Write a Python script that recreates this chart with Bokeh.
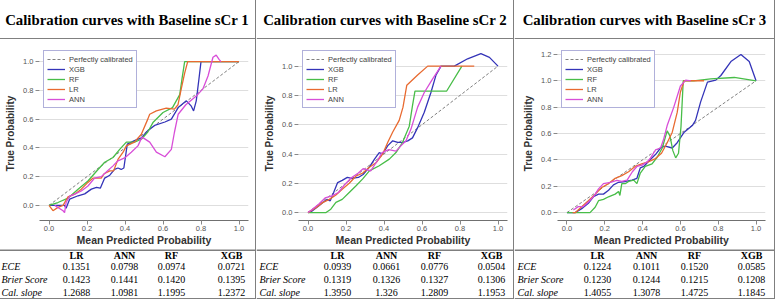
from bokeh.plotting import figure
from bokeh.layouts import row, column
from bokeh.models import Range1d, NumeralTickFormatter, FixedTicker, Span
from bokeh.core.properties import value
from bokeh.embed import file_html
from bokeh.resources import INLINE

# ---------------- data ----------------
titles = ["Calibration curves with Baseline sCr 1",
          "Calibration curves with Baseline sCr 2",
          "Calibration curves with Baseline sCr 3"]

models = ["XGB", "RF", "LR", "ANN"]
table_cols = ["LR", "ANN", "RF", "XGB"]
table_rows = ["ECE", "Brier Score", "Cal. slope"]

# panel 1
p1_xgb_x = [0.0, 0.04, 0.07, 0.082, 0.09, 0.109, 0.153, 0.188, 0.223, 0.25, 0.27, 0.293, 0.32, 0.345, 0.363, 0.38, 0.394, 0.412, 0.45, 0.486, 0.52, 0.556, 0.61, 0.644, 0.68, 0.723, 0.749, 0.761, 0.775, 0.789, 0.80, 1.0]
p1_xgb_y = [0.0, 0.0, 0.0, 0.0, -0.02, 0.044, 0.067, 0.08, 0.113, 0.125, 0.12, 0.19, 0.21, 0.25, 0.26, 0.25, 0.26, 0.426, 0.45, 0.47, 0.52, 0.556, 0.58, 0.60, 0.68, 0.727, 0.69, 0.657, 0.727, 0.877, 1.0, 1.0]
p1_rf_x = [0.0, 0.047, 0.1, 0.153, 0.205, 0.258, 0.293, 0.337, 0.372, 0.407, 0.45, 0.486, 0.52, 0.547, 0.6, 0.65, 0.688, 0.70, 0.714, 0.73, 1.0]
p1_rf_y = [0.0, 0.02, 0.05, 0.113, 0.17, 0.25, 0.30, 0.333, 0.39, 0.44, 0.44, 0.46, 0.51, 0.576, 0.646, 0.68, 0.77, 0.88, 1.0, 1.0, 1.0]
p1_lr_x = [0.0, 0.021, 0.047, 0.074, 0.1, 0.135, 0.17, 0.205, 0.232, 0.275, 0.29, 0.32, 0.34, 0.363, 0.39, 0.407, 0.45, 0.486, 0.52, 0.53, 0.565, 0.617, 0.66, 0.679, 0.696, 0.714, 0.73, 1.0]
p1_lr_y = [0.0, -0.037, -0.014, 0.0, 0.06, 0.078, 0.113, 0.16, 0.19, 0.19, 0.22, 0.24, 0.24, 0.32, 0.37, 0.414, 0.44, 0.495, 0.6, 0.634, 0.657, 0.676, 0.669, 0.70, 0.81, 0.92, 1.0, 1.0]
p1_ann_x = [0.03, 0.074, 0.082, 0.09, 0.109, 0.135, 0.17, 0.205, 0.24, 0.275, 0.30, 0.337, 0.363, 0.398, 0.433, 0.468, 0.49, 0.53, 0.565, 0.61, 0.644, 0.66, 0.68, 0.72, 0.775, 0.81, 0.837, 0.863, 0.88, 0.895, 0.905]
p1_ann_y = [0.0, -0.037, -0.05, 0.02, 0.065, 0.078, 0.1, 0.135, 0.19, 0.2, 0.23, 0.275, 0.31, 0.33, 0.37, 0.414, 0.475, 0.44, 0.37, 0.338, 0.39, 0.507, 0.634, 0.70, 0.76, 0.81, 0.90, 1.03, 1.045, 1.016, 1.0]

# panel 2
p2_xgb_x = [0.0, 0.02, 0.056, 0.08, 0.1, 0.117, 0.135, 0.156, 0.18, 0.207, 0.23, 0.265, 0.29, 0.323, 0.35, 0.375, 0.393, 0.42, 0.446, 0.472, 0.50, 0.525, 0.55, 0.577, 0.612, 0.647, 0.674, 0.70, 0.77, 0.84, 0.91, 0.955, 1.0]
p2_xgb_y = [0.0, 0.01, 0.045, 0.07, 0.09, 0.08, 0.137, 0.205, 0.22, 0.24, 0.233, 0.24, 0.26, 0.31, 0.365, 0.41, 0.40, 0.457, 0.49, 0.48, 0.48, 0.49, 0.51, 0.58, 0.685, 0.82, 0.94, 1.0, 1.0, 1.05, 1.085, 1.06, 1.0]
p2_rf_x = [0.0, 0.095, 0.12, 0.147, 0.18, 0.217, 0.253, 0.288, 0.323, 0.375, 0.428, 0.463, 0.498, 0.507, 0.533, 0.55, 0.563, 0.73, 0.81]
p2_rf_y = [0.0, 0.0, 0.023, 0.07, 0.09, 0.137, 0.183, 0.23, 0.285, 0.32, 0.365, 0.41, 0.48, 0.51, 0.59, 0.73, 0.83, 0.83, 1.0]
p2_lr_x = [0.0, 0.042, 0.077, 0.112, 0.147, 0.18, 0.217, 0.253, 0.288, 0.323, 0.358, 0.393, 0.42, 0.446, 0.48, 0.50, 0.52, 0.577, 0.63, 0.875]
p2_lr_y = [0.0, 0.034, 0.068, 0.09, 0.12, 0.16, 0.2, 0.25, 0.27, 0.31, 0.34, 0.4, 0.48, 0.55, 0.63, 0.72, 0.87, 0.94, 1.0, 1.0]
p2_ann_x = [0.0, 0.02, 0.056, 0.09, 0.126, 0.16, 0.195, 0.23, 0.265, 0.29, 0.33, 0.365, 0.39, 0.425, 0.463, 0.49, 0.516, 0.542, 0.577, 0.612, 0.656, 0.70]
p2_ann_y = [0.0, 0.02, 0.057, 0.1, 0.114, 0.137, 0.194, 0.24, 0.27, 0.3, 0.285, 0.354, 0.41, 0.43, 0.42, 0.457, 0.49, 0.57, 0.72, 0.82, 0.913, 1.0]

# panel 3
p3_xgb_x = [0.0, 0.043, 0.078, 0.113, 0.14, 0.167, 0.193, 0.22, 0.246, 0.273, 0.31, 0.344, 0.37, 0.388, 0.406, 0.432, 0.468, 0.495, 0.52, 0.557, 0.583, 0.62, 0.663, 0.68, 0.707, 0.743, 0.787, 0.814, 0.867, 0.92, 0.964, 1.0]
p3_xgb_y = [0.0, 0.0, 0.03, 0.07, 0.12, 0.14, 0.14, 0.17, 0.21, 0.23, 0.236, 0.246, 0.26, 0.34, 0.35, 0.39, 0.44, 0.49, 0.505, 0.49, 0.53, 0.61, 0.66, 0.70, 0.84, 0.99, 1.005, 1.04, 1.146, 1.2, 1.146, 1.0]
p3_rf_x = [0.0, 0.122, 0.149, 0.167, 0.193, 0.22, 0.255, 0.273, 0.28, 0.29, 0.31, 0.326, 0.353, 0.37, 0.388, 0.414, 0.45, 0.477, 0.504, 0.53, 0.545, 0.56, 0.575, 0.59, 0.603, 0.615, 0.67, 0.76, 0.885, 1.0]
p3_rf_y = [0.0, 0.0, 0.04, 0.09, 0.1, 0.12, 0.14, 0.16, 0.13, 0.22, 0.22, 0.236, 0.246, 0.22, 0.3, 0.35, 0.37, 0.42, 0.49, 0.62, 0.58, 0.47, 0.415, 0.45, 0.65, 1.0, 1.0, 1.015, 1.025, 1.0]
p3_lr_x = [0.03, 0.045, 0.078, 0.113, 0.15, 0.184, 0.22, 0.255, 0.29, 0.326, 0.36, 0.395, 0.43, 0.468, 0.50, 0.53, 0.557, 0.583, 0.60, 0.62, 0.725]
p3_lr_y = [0.0, 0.0, 0.045, 0.09, 0.14, 0.19, 0.22, 0.26, 0.28, 0.31, 0.35, 0.37, 0.385, 0.41, 0.45, 0.53, 0.61, 0.76, 0.915, 1.0, 1.0]
p3_ann_x = [0.034, 0.06, 0.085, 0.113, 0.14, 0.167, 0.193, 0.23, 0.264, 0.29, 0.318, 0.346, 0.37, 0.397, 0.424, 0.44, 0.468, 0.495, 0.51, 0.53, 0.565, 0.60, 0.628, 0.655]
p3_ann_y = [0.02, 0.045, 0.045, 0.08, 0.12, 0.18, 0.22, 0.23, 0.245, 0.236, 0.246, 0.31, 0.35, 0.36, 0.385, 0.41, 0.475, 0.49, 0.55, 0.66, 0.80, 0.96, 1.005, 1.0]

p1_table = [["0.1351", "0.0798", "0.0974", "0.0721"],
            ["0.1423", "0.1441", "0.1420", "0.1395"],
            ["1.2688", "1.0981", "1.1995", "1.2372"]]
p2_table = [["0.0939", "0.0661", "0.0776", "0.0504"],
            ["0.1319", "0.1326", "0.1327", "0.1306"],
            ["1.3950", "1.326", "1.2809", "1.1953"]]
p3_table = [["0.1224", "0.1011", "0.1520", "0.0585"],
            ["0.1230", "0.1244", "0.1215", "0.1208"],
            ["1.4055", "1.3078", "1.4725", "1.1845"]]

y_limits = [(-0.105, 1.105), (-0.054, 1.134), (-0.06, 1.26)]
y_ticks = [[0.0, 0.2, 0.4, 0.6, 0.8, 1.0],
           [0.0, 0.2, 0.4, 0.6, 0.8, 1.0],
           [0.0, 0.2, 0.4, 0.6, 0.8, 1.0, 1.2]]
x_ticks = [0.0, 0.2, 0.4, 0.6, 0.8, 1.0]
diag = [0.0, 1.0]

panels = [
    dict(xgb=(p1_xgb_x, p1_xgb_y), rf=(p1_rf_x, p1_rf_y), lr=(p1_lr_x, p1_lr_y), ann=(p1_ann_x, p1_ann_y), table=p1_table),
    dict(xgb=(p2_xgb_x, p2_xgb_y), rf=(p2_rf_x, p2_rf_y), lr=(p2_lr_x, p2_lr_y), ann=(p2_ann_x, p2_ann_y), table=p2_table),
    dict(xgb=(p3_xgb_x, p3_xgb_y), rf=(p3_rf_x, p3_rf_y), lr=(p3_lr_x, p3_lr_y), ann=(p3_ann_x, p3_ann_y), table=p3_table),
]

# ---------------- style ----------------
COLORS = {"xgb": "#3434b8", "rf": "#48bd48", "lr": "#e86a30", "ann": "#d84ed8"}
PANEL_W = [257, 257, 260]
BORDER_L = [41, 42, 43]
BORDER_R = [7, 6, 9]
TITLE_H, PLOT_H, TABLE_H = 42, 210, 50
TOTAL_H = TITLE_H + PLOT_H + TABLE_H
col_centers = [[78, 126, 173, 233], [81, 130, 178, 235], [83, 132, 180, 237]]
row_offsets = [6.3, 16.8, 30.3, 42.6]
SANS = "Liberation Sans"
SERIF = "Liberation Serif"


def bare(w, h):
    f = figure(width=w, height=h, x_range=Range1d(0, w), y_range=Range1d(0, h),
               min_border=0, x_axis_location=None, y_axis_location=None,
               toolbar_location=None, output_backend="svg", outline_line_color=None,
               frame_align=False)
    f.grid.visible = False
    return f


def separator():
    s = figure(width=1, height=TOTAL_H, min_border=0, x_axis_location=None,
               y_axis_location=None, toolbar_location=None, output_backend="svg",
               background_fill_color="black", border_fill_color="black",
               outline_line_color=None, frame_align=False)
    s.grid.visible = False
    return s


def title_fig(i):
    w = PANEL_W[i]
    t = bare(w, TITLE_H)
    t.text(x=[w / 2], y=[TITLE_H - 22], text=[titles[i]], text_font=value(SERIF),
           text_font_style="bold", text_font_size="14.8px", text_align="center",
           text_baseline="middle", text_color="black")
    t.add_layout(Span(location=TITLE_H - 0.5, dimension="width", line_color="black", line_width=1))
    t.add_layout(Span(location=0.5, dimension="width", line_color="black", line_width=1))
    return t


def table_fig(i):
    w = PANEL_W[i]
    t = bare(w, TABLE_H)
    tab = panels[i]["table"]
    ys = [TABLE_H - r for r in row_offsets]
    t.text(x=col_centers[i], y=[ys[0]] * 4, text=table_cols, text_font=value(SERIF),
           text_font_style="bold", text_font_size="10px", text_align="center",
           text_baseline="middle", text_color="black")
    t.text(x=[3, 3, 3], y=ys[1:], text=table_rows, text_font=value(SERIF),
           text_font_style="italic", text_font_size="10px", text_align="left",
           text_baseline="middle", text_color="black")
    for r in range(3):
        t.text(x=col_centers[i], y=[ys[r + 1]] * 4, text=tab[r], text_font=value(SERIF),
               text_font_size="10px", text_align="center", text_baseline="middle",
               text_color="black")
    t.add_layout(Span(location=TABLE_H - 0.5, dimension="width", line_color="black", line_width=1))
    t.add_layout(Span(location=0.5, dimension="width", line_color="black", line_width=1))
    return t


def plot_fig(i):
    d = panels[i]
    p = figure(width=PANEL_W[i], height=PLOT_H, x_range=Range1d(-0.05, 1.05),
               y_range=Range1d(*y_limits[i]), toolbar_location=None, output_backend="svg",
               min_border_left=BORDER_L[i], min_border_right=BORDER_R[i],
               min_border_top=7, min_border_bottom=29,
               outline_line_color=None, background_fill_color="white", frame_align=False)
    p.line(diag, diag, line_color="#808080", line_dash="3 2", line_width=1,
           legend_label="Perfectly calibrated")
    for key, name in [("xgb", "XGB"), ("rf", "RF"), ("lr", "LR"), ("ann", "ANN")]:
        xs, ys = d[key]
        p.line(xs, ys, line_color=COLORS[key], line_width=1.3, legend_label=name)

    p.xgrid.visible = False
    p.ygrid.grid_line_color = "#dedede"
    p.ygrid.grid_line_width = 1

    p.xaxis.ticker = FixedTicker(ticks=x_ticks)
    p.yaxis.ticker = FixedTicker(ticks=y_ticks[i])
    for ax in (p.xaxis, p.yaxis):
        ax.formatter = NumeralTickFormatter(format="0.0")
        ax.major_label_text_font = SANS
        ax.major_label_text_font_size = "7.5px"
        ax.major_label_text_color = "#555555"
        ax.major_tick_in = 0
        ax.major_tick_out = 4
        ax.major_tick_line_color = "#888888"
        ax.minor_tick_line_color = None
        ax.axis_label_text_font = SANS
        ax.axis_label_text_font_style = "bold"
        ax.axis_label_text_color = "#333333"
    p.xaxis.axis_label = "Mean Predicted Probability"
    p.yaxis.axis_label = "True Probability"
    p.xaxis.axis_label_text_font_size = "10.5px"
    p.yaxis.axis_label_text_font_size = "10px"
    p.xaxis.major_label_standoff = 1
    p.yaxis.major_label_standoff = 2
    p.xaxis.axis_label_standoff = 0
    p.yaxis.axis_label_standoff = 4
    p.xaxis.axis_line_color = "#707070"
    p.xaxis.axis_line_width = 1.2
    p.yaxis.axis_line_color = None

    lg = p.legend[0]
    lg.location = "top_left"
    lg.margin = 4
    lg.padding = 3
    lg.spacing = 0
    lg.glyph_width = 18
    lg.glyph_height = 10
    lg.label_height = 10
    lg.label_standoff = 4
    lg.label_text_font = SANS
    lg.label_text_font_size = "7.5px"
    lg.label_text_color = "#444444"
    lg.border_line_color = "#6161b5"
    lg.border_line_width = 1
    lg.background_fill_alpha = 1
    return p


children = [separator()]
for i in range(3):
    children.append(column(title_fig(i), plot_fig(i), table_fig(i), spacing=0))
    children.append(separator())

# pull the composite into the page's 8px margin so it spans the full window
layout = row(*children, spacing=0, margin=(-3, -8, -8, -3))

open("out.html", "w").write(file_html(layout, INLINE))
